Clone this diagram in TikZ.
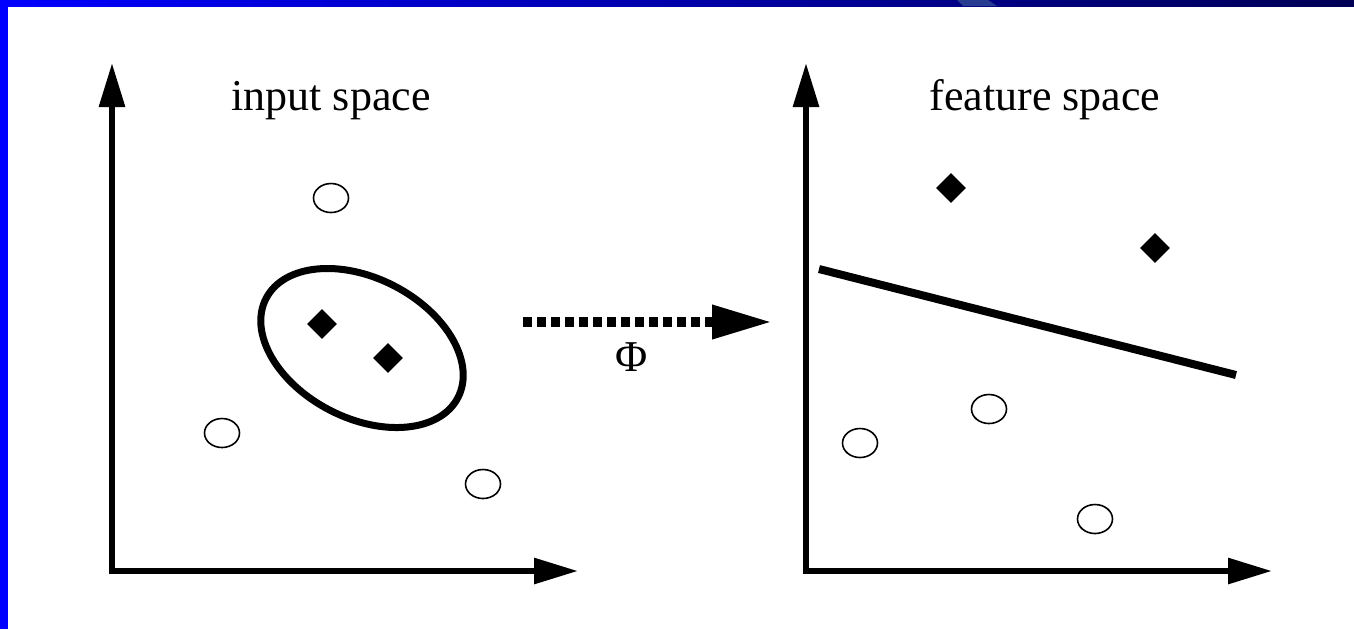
\documentclass[tikz,border=0pt]{standalone}
\usepackage{fontspec}
\setmainfont{Liberation Serif}
\usetikzlibrary{arrows.meta,shapes.geometric}
\definecolor{bordblue}{RGB}{0,0,255}
\definecolor{navyend}{RGB}{0,0,85}
\definecolor{streak}{RGB}{40,60,145}
\tikzset{
  axis/.style={line width=3pt, -{Triangle[length=22pt,width=12.5pt]}},
  axis2/.style={line width=3pt, {Triangle[length=22pt,width=12.5pt]}-{Triangle[length=22pt,width=12.5pt]}},
  ring/.style={ellipse, draw, line width=0.8pt, minimum width=17.5pt, minimum height=14.5pt, inner sep=0pt},
  gem/.style={diamond, fill=black, minimum width=15pt, minimum height=15pt, inner sep=0pt},
  label/.style={font=\fontsize{22pt}{26pt}\selectfont, inner sep=0pt, anchor=base},
  mapping/.style={line width=5pt, dash pattern=on 4.5pt off 2.5pt, -{Triangle[length=30pt,width=16pt]}},
  sep/.style={line width=4pt}
}
\begin{document}
\begin{tikzpicture}[x=0.5pt,y=-0.5pt]
\useasboundingbox (0,0) rectangle (1354,629);
\fill[white] (0,0) rectangle (1354,629);
% frame
\shade[left color=bordblue, right color=navyend] (0,0) rectangle (1354,6);
\fill[streak] (957,0) -- (988,0) -- (997,6) -- (963,6) -- cycle;
\fill[bordblue] (0,0) rectangle (8,629);
% left panel
\coordinate (oL) at (112,571);
\coordinate (yL) at (112,63);
\coordinate (xL) at (578,571);
\draw[axis2] (yL) -- (oL) -- (xL);
\node[label] (tL) at (331,110) {input space};
\draw[line width=3.5pt, rotate around={-27.3:(362,348)}] (362,348) ellipse [x radius=108, y radius=70];
\node[ring] (c1) at (331,198) {};
\node[ring] (c2) at (222,433) {};
\node[ring] (c3) at (483,484) {};
\node[gem] (d1) at (322,324) {};
\node[gem] (d2) at (388,358) {};
% mapping arrow
\coordinate (mA) at (523,322);
\coordinate (mB) at (772,322);
\draw[mapping] (mA) -- (mB);
\node[label] (phi) at (632,371) {Φ};
% right panel
\coordinate (oR) at (806,571);
\coordinate (yR) at (806,63);
\coordinate (xR) at (1272,571);
\draw[axis2] (yR) -- (oR) -- (xR);
\node[label] (tR) at (1045,110) {feature space};
\coordinate (s1) at (819,269);
\coordinate (s2) at (1236,375);
\draw[sep] (s1) -- (s2);
\node[gem] (d3) at (951,188) {};
\node[gem] (d4) at (1155,248) {};
\node[ring] (c4) at (989,409) {};
\node[ring] (c5) at (860,443) {};
\node[ring] (c6) at (1095,519) {};
\end{tikzpicture}
\end{document}
